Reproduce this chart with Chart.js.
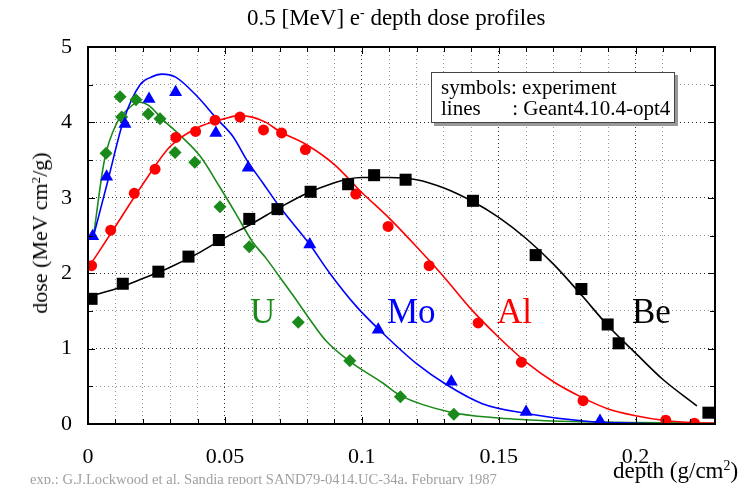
<!DOCTYPE html>
<html>
<head>
<meta charset="utf-8">
<script src="https://cdn.jsdelivr.net/npm/chart.js@4"></script>
<style>
  body { margin: 0; background: #fff; }
  #wrap { position: relative; width: 742px; height: 484px; overflow: hidden; font-family: 'Liberation Serif', serif; }
  #wrap div.t { position: absolute; white-space: pre; line-height: 1; }
  #title { left: 247px; top: 6px; font-size: 23px; }
  #ylab { left: 40px; top: 233px; font-size: 22px; transform: translate(-50%, -50%) rotate(-90deg); }
  #xlab { left: 613px; top: 459px; font-size: 23px; }
  #note { left: 30px; top: 472px; font-size: 14.6px; color: #a0a0a0; }
  #legend { position: absolute; left: 431px; top: 72px; width: 244px; height: 51px; border: 1px solid #444; background: #fff;
            box-shadow: 3px 3px 0 #999; font-size: 21px; line-height: 21px; padding: 4px 0 0 9px; box-sizing: border-box; white-space: pre; }
  .el { font-size: 35px; }
  sup { font-size: 60%; vertical-align: 0; position: relative; top: -0.55em; }
</style>
</head>
<body>
<div id="wrap">
  <canvas id="chart" width="742" height="484"></canvas>
  <div class="t" id="title">0.5 [MeV] e<sup>-</sup> depth dose profiles</div>
  <div class="t" id="ylab">dose (MeV cm<sup>2</sup>/g)</div>
  <div class="t" id="xlab">depth (g/cm<sup>2</sup>)</div>
  <div class="t" id="note">exp.: G.J.Lockwood et al. Sandia report SAND79-0414.UC-34a, February 1987</div>
  <div id="legend">symbols: experiment
lines      : Geant4.10.4-opt4</div>
  <div class="t el" style="left:250px;top:294px;color:#1a8a1a">U</div>
  <div class="t el" style="left:387px;top:294px;color:#0000ff">Mo</div>
  <div class="t el" style="left:497px;top:294px;color:#ff0000">Al</div>
  <div class="t el" style="left:632px;top:294px;color:#000">Be</div>
</div>
<script>
// experiment (symbols)
const beExpX = [0.0013, 0.0127, 0.0257, 0.0367, 0.0478, 0.0589, 0.0692, 0.0813, 0.095, 0.1045, 0.116, 0.1406, 0.1635, 0.1802, 0.1898, 0.1938, 0.2266];
const beExpY = [1.66, 1.86, 2.02, 2.22, 2.44, 2.72, 2.85, 3.08, 3.18, 3.30, 3.24, 2.96, 2.24, 1.79, 1.32, 1.07, 0.15];
const alExpX = [0.0013, 0.0083, 0.0169, 0.0245, 0.0321, 0.0393, 0.0464, 0.0555, 0.0641, 0.0707, 0.0794, 0.0978, 0.1096, 0.1246, 0.1425, 0.1583, 0.1808, 0.211, 0.2215];
const alExpY = [2.10, 2.57, 3.06, 3.38, 3.80, 3.88, 4.03, 4.07, 3.90, 3.86, 3.64, 3.05, 2.62, 2.10, 1.34, 0.82, 0.31, 0.05, 0.01];
const moExpX = [0.0017, 0.0068, 0.0135, 0.0223, 0.032, 0.0467, 0.0585, 0.081, 0.106, 0.1327, 0.160, 0.187];
const moExpY = [2.49, 3.28, 3.98, 4.31, 4.40, 3.86, 3.40, 2.38, 1.25, 0.56, 0.16, 0.04];
const uExpX = [0.0066, 0.0117, 0.0123, 0.0175, 0.022, 0.0263, 0.0318, 0.039, 0.0482, 0.0589, 0.0768, 0.0956, 0.1141, 0.1336];
const uExpY = [3.59, 4.34, 4.07, 4.30, 4.11, 4.05, 3.60, 3.47, 2.88, 2.35, 1.35, 0.84, 0.36, 0.13];

// Geant4.10.4-opt4 (lines)
const beSimX = [0.001, 0.01, 0.02, 0.03, 0.04, 0.05, 0.06, 0.07, 0.08, 0.09, 0.095, 0.1, 0.11, 0.12, 0.13, 0.14, 0.15, 0.16, 0.17, 0.18, 0.19, 0.2, 0.21, 0.2224];
const beSimY = [1.70, 1.79, 1.93, 2.08, 2.26, 2.47, 2.66, 2.87, 3.06, 3.20, 3.25, 3.27, 3.27, 3.24, 3.13, 2.96, 2.74, 2.46, 2.12, 1.72, 1.30, 0.94, 0.59, 0.24];
const alSimX = [0.001, 0.01, 0.02, 0.03, 0.04, 0.05, 0.055, 0.06, 0.065, 0.07, 0.08, 0.09, 0.1, 0.11, 0.12, 0.13, 0.14, 0.15, 0.16, 0.17, 0.18, 0.19, 0.2, 0.21, 0.22, 0.229];
const alSimY = [2.12, 2.62, 3.18, 3.68, 3.93, 4.05, 4.09, 4.07, 4.00, 3.88, 3.70, 3.44, 3.07, 2.73, 2.35, 1.95, 1.52, 1.15, 0.82, 0.56, 0.36, 0.20, 0.11, 0.05, 0.02, 0.01];
const moSimX = [0.002, 0.007, 0.013, 0.019, 0.023, 0.027, 0.032, 0.04, 0.047, 0.053, 0.058, 0.064, 0.07, 0.081, 0.0883, 0.098, 0.1078, 0.12, 0.131, 0.144, 0.16, 0.181, 0.2, 0.229];
const moSimY = [2.49, 3.19, 4.03, 4.50, 4.60, 4.64, 4.60, 4.34, 4.05, 3.81, 3.50, 3.19, 2.88, 2.38, 2.00, 1.56, 1.20, 0.80, 0.52, 0.27, 0.14, 0.04, 0.01, 0.0];
const uSimX = [0.002, 0.006, 0.0105, 0.015, 0.0184, 0.022, 0.0275, 0.0336, 0.041, 0.048, 0.054, 0.06, 0.065, 0.07, 0.075, 0.08, 0.087, 0.0956, 0.1078, 0.114, 0.1321, 0.15, 0.17, 0.2, 0.229];
const uSimY = [2.49, 3.50, 3.99, 4.19, 4.27, 4.23, 4.03, 3.83, 3.55, 3.15, 2.79, 2.42, 2.20, 1.95, 1.70, 1.44, 1.10, 0.83, 0.54, 0.38, 0.16, 0.08, 0.04, 0.02, 0.01];

const xTickLabels = ['0', '0.05', '0.1', '0.15', '0.2'];
const yTickLabels = ['0', '1', '2', '3', '4', '5'];

const green = '#1a8a1a', blue = '#0000ff', red = '#ff0000', black = '#000000';
const pts = (xs, ys) => xs.map((x, i) => ({ x, y: ys[i] }));

function simLine(xs, ys, color) {
  return { data: pts(xs, ys), showLine: true, borderColor: color, borderWidth: 1.6, pointRadius: 0,
           tension: 0.2, cubicInterpolationMode: 'monotone', order: 2 };
}
function expPoints(xs, ys, color, style, r) {
  return { data: pts(xs, ys), showLine: false, backgroundColor: color, borderColor: color, borderWidth: 0,
           pointStyle: style, pointRadius: r, order: 1 };
}

// frame and inward ticks on all four sides
const frameTicks = {
  id: 'frameTicks',
  afterDraw(chart) {
    const { ctx, chartArea: a, scales: { x, y } } = chart;
    ctx.save();
    ctx.strokeStyle = '#000';
    ctx.lineWidth = 1;
    ctx.beginPath();
    for (let i = 0; i <= 22; i++) {
      const px = Math.round(x.getPixelForValue(i / 100)) + 0.5;
      const len = i % 5 === 0 ? 7 : 5;
      ctx.moveTo(px, a.bottom); ctx.lineTo(px, a.bottom - len);
      ctx.moveTo(px, a.top); ctx.lineTo(px, a.top + len);
    }
    for (let i = 0; i <= 10; i++) {
      const py = Math.round(y.getPixelForValue(i / 2)) + 0.5;
      const len = i % 2 === 0 ? 7 : 5;
      ctx.moveTo(a.left, py); ctx.lineTo(a.left + len, py);
      ctx.moveTo(a.right, py); ctx.lineTo(a.right - len, py);
    }
    ctx.stroke();
    ctx.lineWidth = 2;
    ctx.strokeRect(a.left, a.top, a.right - a.left, a.bottom - a.top);
    ctx.restore();
  }
};

const tickFont = { family: "'Liberation Serif', serif", size: 22 };

new Chart(document.getElementById('chart'), {
  type: 'scatter',
  data: {
    datasets: [
      simLine(beSimX, beSimY, black),
      simLine(alSimX, alSimY, red),
      simLine(moSimX, moSimY, blue),
      simLine(uSimX, uSimY, green),
      expPoints(beExpX, beExpY, black, 'rect', 8.5),
      expPoints(alExpX, alExpY, red, 'circle', 5.5),
      expPoints(moExpX, moExpY, blue, 'triangle', 7.5),
      expPoints(uExpX, uExpY, green, 'rectRot', 6.5),
    ],
  },
  options: {
    responsive: false,
    animation: false,
    layout: { padding: { top: 47, right: 27, left: 0, bottom: 0 } },
    plugins: { legend: { display: false }, tooltip: { enabled: false } },
    scales: {
      x: {
        type: 'linear', min: 0, max: 0.229,
        afterFit(s) { s.height = 60; },
        border: { display: false, dash: [1, 3] },
        grid: {
          drawTicks: false,
          color: c => Math.round(c.tick.value * 100) % 5 === 0 ? 'rgba(0,0,0,0.85)' : 'rgba(0,0,0,0.4)',
          lineWidth: 1,
        },
        ticks: {
          stepSize: 0.01, autoSkip: false, maxRotation: 0, padding: 20, color: '#000', font: tickFont,
          callback: v => {
            const k = Math.round(v * 100);
            return k % 5 === 0 && Math.abs(v * 100 - k) < 1e-6 ? xTickLabels[k / 5] : '';
          },
        },
      },
      y: {
        min: 0, max: 5,
        afterFit(s) { s.width = 88; },
        border: { display: false, dash: [1, 3] },
        grid: {
          drawTicks: false,
          color: c => Math.round(c.tick.value * 2) % 2 === 0 ? 'rgba(0,0,0,0.85)' : 'rgba(0,0,0,0.4)',
          lineWidth: 1,
        },
        ticks: {
          stepSize: 0.5, autoSkip: false, padding: 16, color: '#000', font: tickFont,
          callback: v => Number.isInteger(v) ? yTickLabels[v] : '',
        },
      },
    },
  },
  plugins: [frameTicks],
});
</script>
</body>
</html>
